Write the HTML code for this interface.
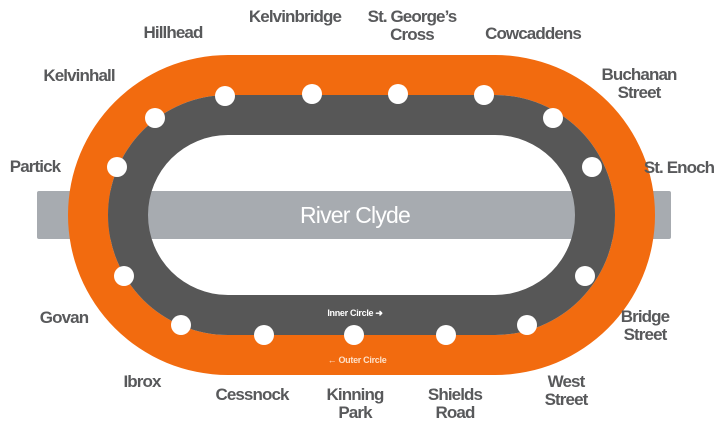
<!DOCTYPE html>
<html><head><meta charset="utf-8"><style>
html,body{margin:0;padding:0;background:#fff;}
svg{display:block;}
text{font-family:"Liberation Sans",sans-serif;font-weight:bold;font-size:17px;fill:#58595b;letter-spacing:-0.9px;}
</style></head><body>
<svg width="720" height="427" viewBox="0 0 720 427">
<rect x="37" y="191" width="634" height="48" rx="2" fill="#a7abb0"/>
<path fill-rule="evenodd" fill="#f26b0f" d="M228 55 H495 A160 160 0 0 1 495 375 H228 A160 160 0 0 1 228 55 Z M228 95 A120 120 0 0 0 228 335 H495 A120 120 0 0 0 495 95 Z"/>
<path fill-rule="evenodd" fill="#575757" d="M228 95 H495 A120 120 0 0 1 495 335 H228 A120 120 0 0 1 228 95 Z M228 135 A80 80 0 0 0 228 295 H495 A80 80 0 0 0 495 135 Z"/>
<text x="355" y="223" text-anchor="middle" style="fill:#fff;font-weight:normal;font-size:23px;letter-spacing:-0.8px">River Clyde</text>
<g fill="#fff">
<circle cx="155" cy="118" r="10"/><circle cx="225" cy="96" r="10"/><circle cx="312" cy="94" r="10"/>
<circle cx="398" cy="94" r="10"/><circle cx="484" cy="95" r="10"/><circle cx="553" cy="118" r="10"/>
<circle cx="592" cy="167" r="10"/><circle cx="585" cy="276" r="10"/><circle cx="527" cy="325" r="10"/>
<circle cx="446" cy="335" r="10"/><circle cx="354" cy="335" r="10"/><circle cx="264" cy="335" r="10"/>
<circle cx="181" cy="325" r="10"/><circle cx="124" cy="276" r="10"/><circle cx="117" cy="167" r="10"/>
</g>
<text x="355" y="316" text-anchor="middle" style="fill:#fff;font-size:9px;letter-spacing:-0.3px">Inner Circle ➜</text>
<text x="357" y="363" text-anchor="middle" style="fill:#fde0c8;font-size:9px;letter-spacing:-0.3px">← Outer Circle</text>
<g text-anchor="middle">
<text x="173" y="38">Hillhead</text>
<text x="295" y="22">Kelvinbridge</text>
<text x="412" y="22">St. George’s</text><text x="412" y="40">Cross</text>
<text x="533" y="39">Cowcaddens</text>
<text x="639" y="80">Buchanan</text><text x="639" y="98">Street</text>
<text x="679" y="173">St. Enoch</text>
<text x="79" y="81">Kelvinhall</text>
<text x="35" y="172">Partick</text>
<text x="64" y="323">Govan</text>
<text x="142" y="387">Ibrox</text>
<text x="252" y="400">Cessnock</text>
<text x="355" y="400">Kinning</text><text x="355" y="418">Park</text>
<text x="455" y="400">Shields</text><text x="455" y="418">Road</text>
<text x="566" y="387">West</text><text x="566" y="405">Street</text>
<text x="645" y="322">Bridge</text><text x="645" y="340">Street</text>
</g>
</svg>
</body></html>
